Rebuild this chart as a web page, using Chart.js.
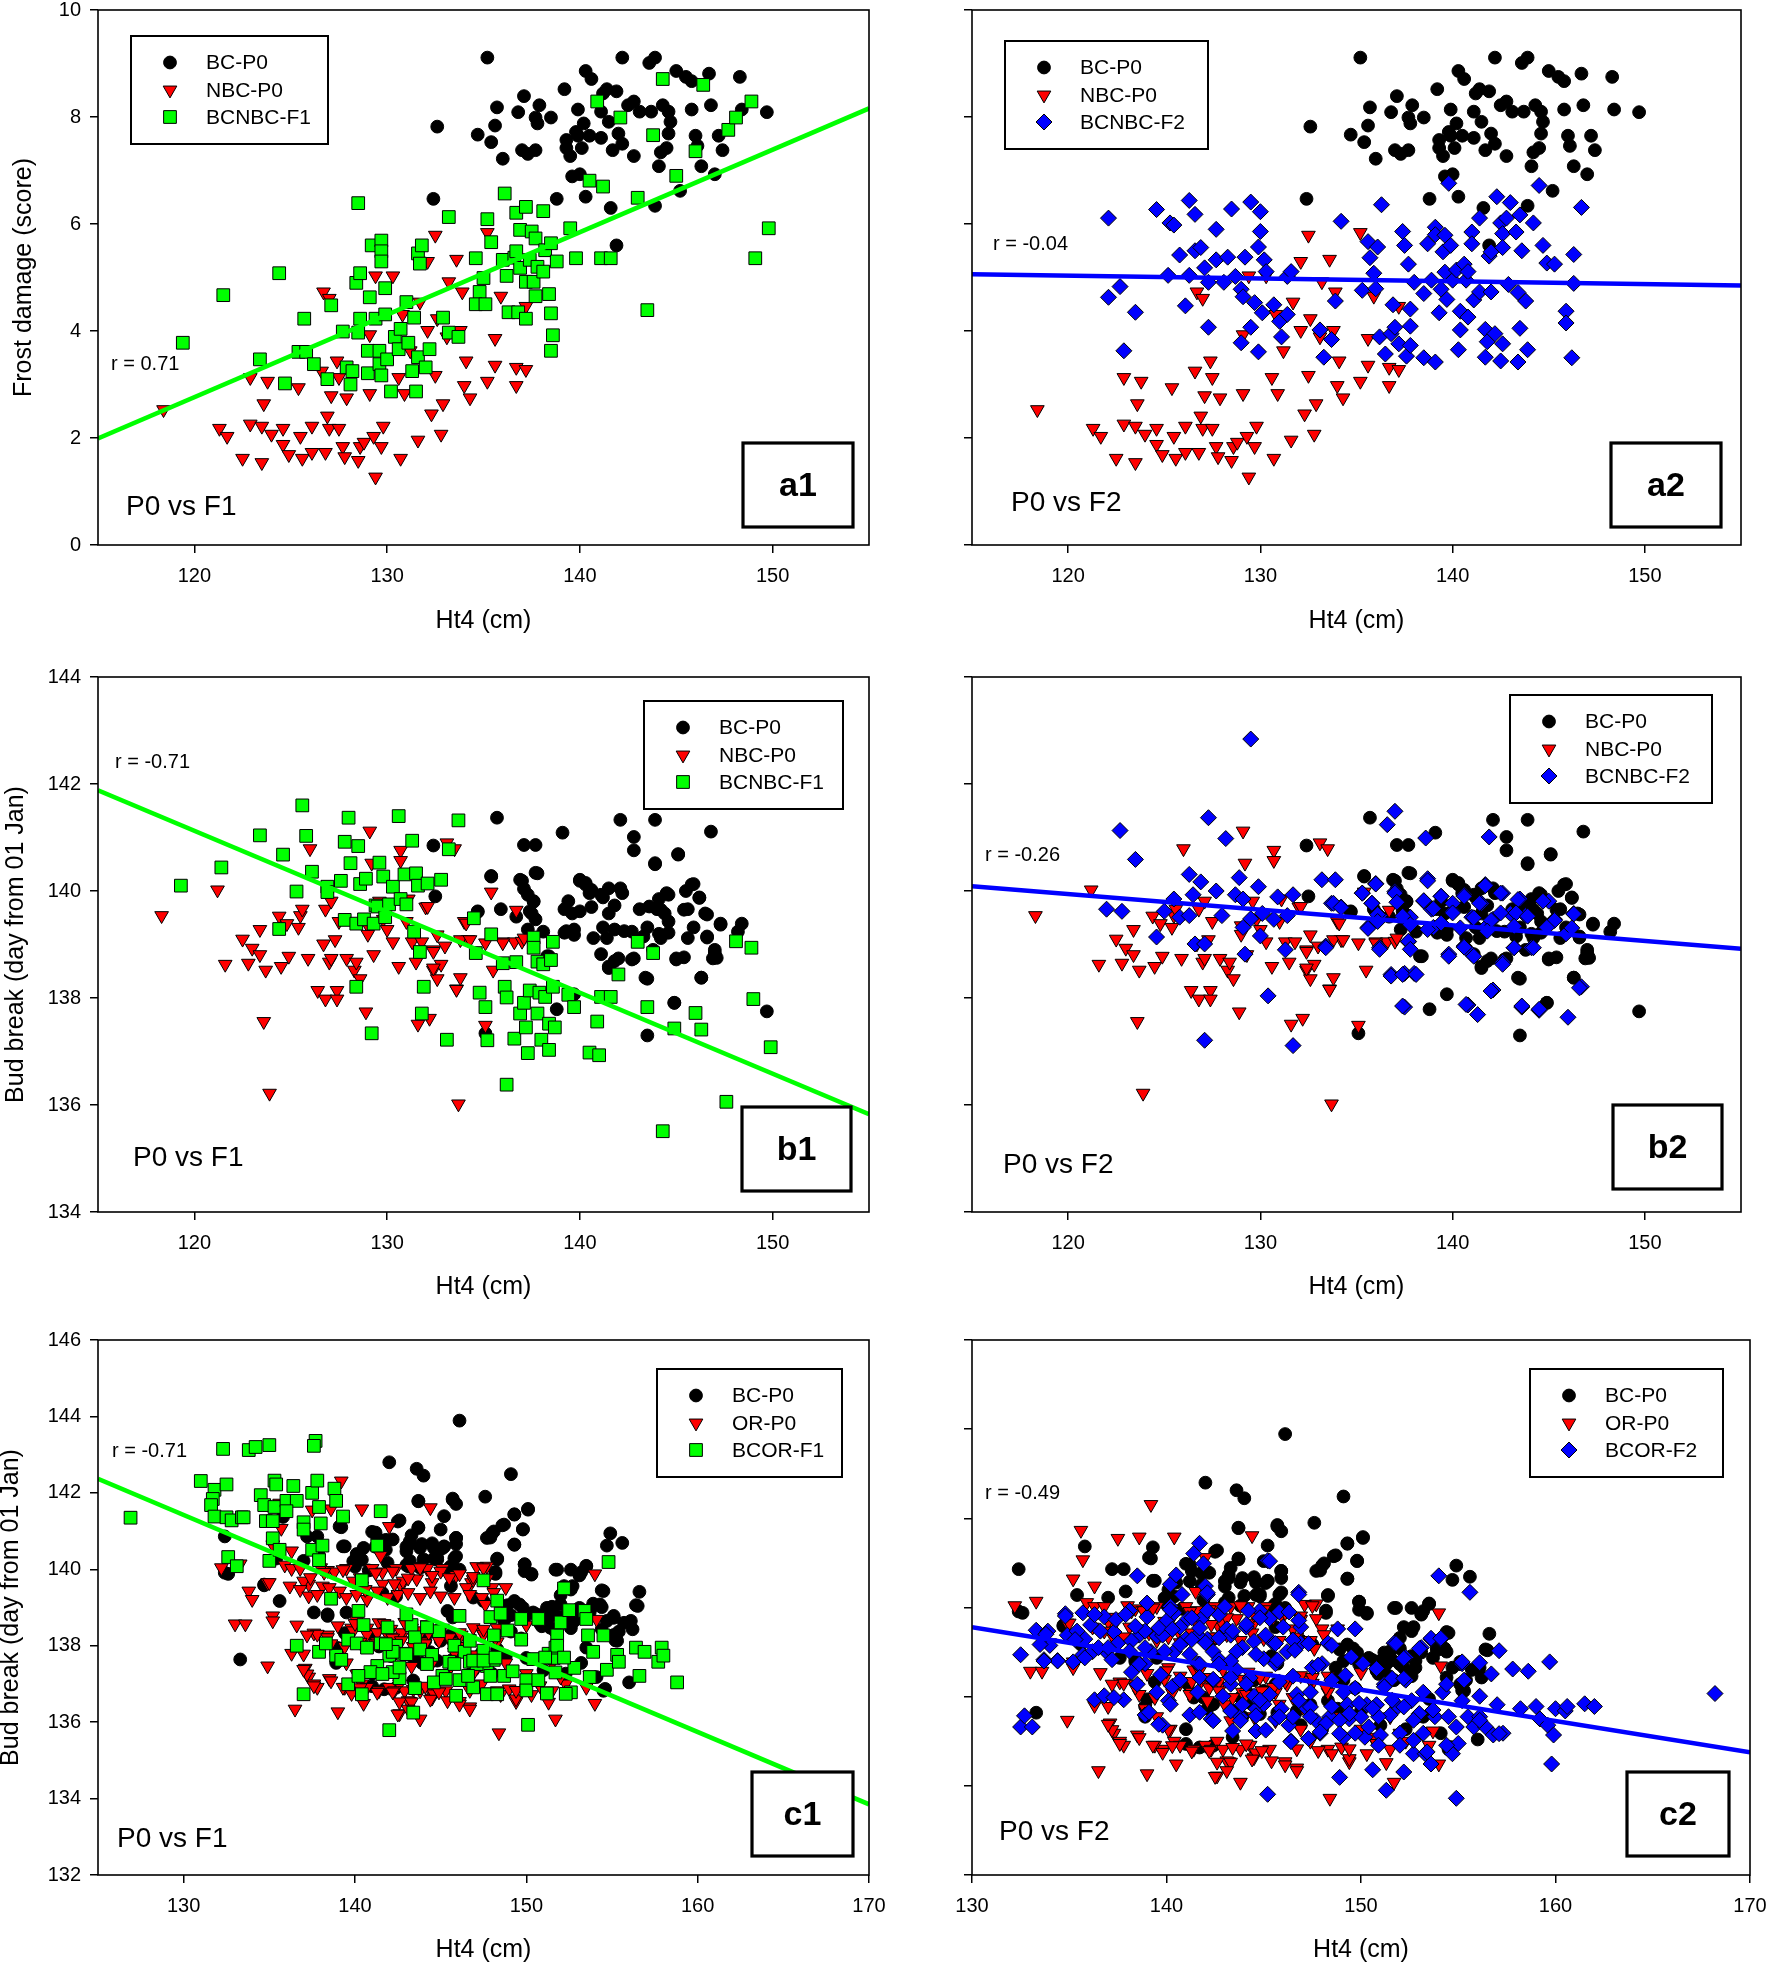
<!DOCTYPE html>
<html lang="en">
<head>
  <meta charset="UTF-8" />
  <title>Ht4 vs frost damage and bud break</title>
  <script src="https://cdn.jsdelivr.net/npm/chart.js"></script>
  <style>
    body { margin: 0; background: #fff; }
    #fig { position: relative; width: 1768px; height: 1965px; overflow: hidden; }
    #fig canvas { position: absolute; }
  </style>
</head>
<body>
  <div id="fig">
    <canvas id="a1" width="900" height="651" style="left:0;top:-11px"></canvas>
    <canvas id="a2" width="888" height="651" style="left:880px;top:-11px"></canvas>
    <canvas id="b1" width="900" height="654" style="left:0;top:656px"></canvas>
    <canvas id="b2" width="888" height="654" style="left:880px;top:656px"></canvas>
    <canvas id="c1" width="900" height="646" style="left:0;top:1319px"></canvas>
    <canvas id="c2" width="900" height="646" style="left:880px;top:1319px"></canvas>
  </div>

  <script>
    // ---- data: [Ht4 (cm), value] ----

    // row a: frost damage (score)
    const bcFrost = [
      [135.2,9.11],[142.2,9.11],[143.6,9.01],[143.9,9.11],[140.3,8.86],[140.6,8.71],[145.0,8.86],[145.5,8.75],
      [145.8,8.67],[146.7,8.81],[148.3,8.75],[139.2,8.52],[137.1,8.39],[135.7,8.18],[136.8,8.09],[137.9,8.22],
      [137.7,7.99],[137.8,7.88],[138.5,7.99],[139.9,8.14],[141.2,8.44],[141.4,8.52],[141.9,8.48],[141.1,8.10],
      [141.5,7.91],[142.8,8.29],[142.5,8.22],[143.1,8.10],[143.7,8.10],[144.3,8.22],[144.6,8.10],[144.7,7.91],
      [145.8,8.14],[146.8,8.22],[148.4,8.14],[149.7,8.09],[132.6,7.82],[134.7,7.67],[135.4,7.53],[135.6,7.84],
      [136.0,7.22],[137.0,7.38],[137.3,7.31],[137.7,7.38],[139.3,7.42],[139.5,7.27],[140.1,7.42],[139.3,7.57],
      [139.8,7.72],[140.2,7.88],[139.9,7.65],[140.5,7.65],[141.1,7.61],[142.0,7.69],[141.7,7.38],[142.2,7.50],
      [142.8,7.27],[144.1,7.08],[144.2,7.34],[144.6,7.69],[144.5,7.42],[146.0,7.65],[146.1,7.46],[146.3,7.08],
      [147.2,7.65],[147.4,7.38],[139.6,6.89],[140.0,6.93],[140.3,6.51],[141.6,6.30],[143.9,6.34],[145.2,6.62],
      [147.0,6.93],[138.8,6.47],[132.4,6.47],[141.9,5.60]
    ];
    const nbcFrost = [
      [118.4,2.53],[121.3,2.18],[121.7,2.03],[122.5,1.62],[122.9,2.26],[123.5,1.54],[123.5,2.22],[123.6,2.64],
      [122.9,3.13],[123.8,3.06],[124.0,2.07],[124.6,2.18],[124.6,1.88],[124.9,1.69],[125.4,2.94],[125.5,2.03],
      [125.6,1.62],[126.1,2.22],[126.1,1.73],[126.6,3.25],[126.8,1.73],[126.9,2.41],[127.0,2.18],[127.1,2.79],
      [126.7,4.73],[127.0,4.61],[127.5,2.18],[127.4,3.44],[127.5,3.13],[127.7,1.84],[127.8,1.65],[127.9,2.75],
      [128.5,1.58],[128.6,1.84],[128.8,1.92],[129.1,2.83],[129.1,3.93],[129.3,2.03],[129.4,1.27],[129.4,5.03],
      [129.7,1.84],[129.8,2.22],[130.3,5.03],[130.6,3.13],[130.7,1.62],[130.9,2.83],[130.8,4.31],[131.2,3.63],
      [131.6,1.96],[131.7,4.54],[132.1,4.01],[132.1,5.30],[132.3,2.45],[132.5,5.79],[132.5,3.17],[132.6,4.23],
      [132.8,2.07],[132.9,2.64],[133.1,3.89],[133.2,4.92],[133.6,5.34],[133.8,4.01],[134.0,2.98],[133.9,4.73],
      [134.3,2.75],[134.1,3.44],[135.2,5.84],[135.2,3.06],[135.6,3.86],[135.6,3.36],[135.9,4.65],[136.7,2.98],
      [136.7,3.32],[137.2,3.28],[137.2,4.46]
    ];
    const f1Frost = [
      [119.4,3.78],[121.5,4.67],[123.4,3.47],[124.4,5.08],[124.7,3.02],[125.4,3.61],[125.7,4.23],[125.8,3.61],
      [126.2,3.38],[126.9,3.10],[127.1,4.48],[127.7,3.99],[127.9,3.32],[128.1,3.00],[128.2,3.25],[128.4,4.90],
      [128.5,6.39],[128.6,5.08],[128.5,3.97],[128.6,4.23],[129.0,3.63],[129.0,3.21],[129.1,4.63],[129.2,5.60],
      [129.4,4.23],[129.6,3.63],[129.6,3.38],[129.7,5.69],[129.7,5.49],[129.7,5.30],[129.7,3.17],[129.9,4.80],
      [129.9,4.31],[130.0,3.47],[130.2,2.87],[130.4,3.89],[130.6,3.66],[130.7,4.04],[131.0,4.54],[131.1,3.78],
      [131.3,3.25],[131.4,4.25],[131.5,2.87],[131.6,3.51],[131.6,5.45],[131.7,5.26],[131.8,5.60],[132.0,3.32],
      [132.2,3.66],[132.9,4.25],[133.2,3.97],[133.2,6.13],[133.7,3.89],[134.6,5.36],[134.8,4.73],[134.6,4.50],
      [135.1,4.50],[135.0,4.99],[135.2,6.09],[135.4,5.66],[136.1,6.57],[136.0,5.33],[136.2,5.03],[136.3,4.35],
      [136.6,5.37],[136.7,6.21],[136.7,5.49],[136.8,4.35],[136.9,5.89],[136.9,5.18],[137.2,4.92],[137.2,6.32],
      [137.2,4.23],[137.4,5.33],[137.5,5.86],[137.6,4.92],[137.7,5.73],[137.7,4.65],[137.8,5.20],[138.1,6.24],
      [138.1,5.11],[138.2,5.51],[138.5,5.64],[138.4,4.69],[138.5,4.33],[138.5,3.63],[138.6,3.92],[138.8,5.30],
      [139.5,5.92],[139.8,5.36],[140.5,6.81],[140.9,8.29],[141.1,5.36],[141.2,6.70],[141.6,5.36],[142.1,7.99],
      [143.0,6.49],[143.5,4.39],[143.8,7.66],[144.3,8.71],[145.0,6.90],[146.0,7.36],[146.4,8.60],[147.7,7.76],
      [148.1,7.99],[148.9,8.29],[149.1,5.36],[149.8,5.92]
    ];
    const f2Frost = [
      [122.1,6.11],[122.7,4.83],[122.1,4.63],[123.5,4.35],[122.9,3.63],[124.6,6.27],[125.2,5.04],[125.3,6.02],
      [125.5,5.98],[125.8,5.42],[126.1,4.47],[126.3,5.04],[126.3,6.44],[126.6,6.18],[126.6,5.50],[126.9,5.56],
      [127.1,5.18],[127.3,4.91],[127.3,4.07],[127.7,5.90],[127.7,5.33],[128.1,4.91],[128.3,5.38],[128.5,6.28],
      [128.7,5.02],[129.0,3.78],[129.0,4.78],[129.1,4.64],[129.2,5.38],[129.5,6.41],[129.5,4.07],[129.9,5.57],
      [130.0,5.86],[130.0,6.23],[129.7,4.53],[129.9,3.61],[130.1,4.34],[130.2,5.33],[130.3,5.11],[130.7,4.49],
      [131.0,4.18],[131.1,3.89],[131.4,5.02],[131.4,4.31],[131.6,5.11],[133.1,4.02],[133.3,3.51],[133.7,3.84],
      [133.9,4.56],[134.2,6.05],[135.3,4.76],[135.6,5.67],[135.7,5.37],[135.9,5.08],[136.0,4.79],[136.1,5.57],
      [136.2,3.89],[136.3,6.36],[136.5,3.57],[136.8,3.95],[136.9,4.49],[137.0,4.07],[137.2,3.76],[137.4,5.86],
      [137.5,5.60],[137.6,3.53],[137.7,5.25],[137.8,4.41],[137.8,4.09],[137.8,3.73],[138.0,4.91],[138.5,3.50],
      [138.5,4.70],[138.7,5.63],[138.9,4.95],[139.1,3.42],[139.1,5.94],[139.1,5.80],[139.3,4.34],[139.4,4.78],
      [139.5,5.48],[139.6,5.79],[139.6,5.10],[139.7,4.59],[139.8,6.76],[139.9,5.60],[140.0,4.95],[140.2,5.14],
      [140.3,3.65],[140.4,4.37],[140.4,4.02],[140.6,5.25],[140.7,4.95],[140.8,5.11],[140.8,4.26],[141.0,5.85],
      [141.0,5.63],[141.1,4.58],[141.4,6.11],[141.4,4.73],[141.7,4.03],[141.7,3.51],[141.8,3.80],[141.9,5.40],
      [142.0,4.73],[142.0,5.48],[142.2,3.95],[142.3,6.51],[142.5,6.02],[142.5,3.44],[142.6,5.82],[142.6,5.56],
      [142.6,3.76],[142.8,6.11],[142.9,4.87],[143.0,6.40],[143.3,5.85],[143.4,4.72],[143.4,3.42],[143.5,4.05],
      [143.5,6.17],[143.6,5.50],[143.8,4.56],[143.9,3.65],[144.2,6.02],[144.5,6.72],[144.7,5.60],[144.9,5.27],
      [145.3,5.25],[145.9,4.37],[145.9,4.15],[146.2,3.50],[146.3,5.43],[146.3,4.89],[146.7,6.31]
    ];

    // row b: bud break (day from 01 Jan), BC x NBC cross
    const bcBud = [
      [135.7,141.37],[139.1,141.09],[142.1,141.33],[143.9,141.33],[146.8,141.11],[142.8,141.01],[142.8,140.76],
      [132.4,140.85],[137.1,140.86],[137.7,140.86],[143.9,140.52],[145.1,140.69],[137.7,140.34],[135.4,140.28],
      [137.0,140.19],[137.1,140.04],[137.3,139.93],[140.0,140.19],[140.3,140.12],[140.5,139.96],[141.5,140.05],
      [142.2,139.96],[141.2,139.88],[145.5,140.00],[145.9,140.13],[146.2,139.88],[144.1,139.85],[144.5,139.96],
      [132.5,139.90],[137.6,139.80],[139.4,139.81],[139.2,139.66],[139.6,139.58],[140.0,139.62],[140.6,139.70],
      [141.8,139.73],[141.5,139.58],[143.1,139.66],[144.0,139.66],[144.4,139.58],[144.6,139.43],[145.6,139.66],
      [146.5,139.58],[147.3,139.39],[148.4,139.39],[134.7,139.61],[135.9,139.66],[136.7,139.52],[137.5,139.58],
      [137.7,139.47],[137.3,139.28],[138.1,139.24],[139.2,139.22],[139.7,139.28],[141.2,139.32],[141.8,139.28],
      [142.7,139.24],[143.5,139.32],[144.1,139.20],[145.9,139.32],[146.6,139.13],[148.2,139.24],[141.1,138.82],
      [141.5,138.59],[142.0,138.74],[142.8,138.74],[143.8,138.90],[145.0,138.74],[145.4,138.76],[147.0,138.90],
      [146.9,138.74],[143.5,138.36],[146.3,138.38],[138.4,138.78],[144.9,137.91],[138.8,137.79],[143.5,137.30],
      [149.7,137.75],[135.1,137.34],
      [145.1,140.68],[143.9,140.50],[137.8,140.33],[135.4,140.27],[136.9,140.21],[140.0,140.21],[140.3,140.15],
      [134.7,139.62],[137.6,139.81],[137.4,139.62],[140.6,140.02],[141.1,139.93],[142.1,140.05],[144.6,139.93],
      [145.8,140.12],[146.2,139.87],[145.4,139.65],[146.6,139.56],[147.3,139.37],[144.2,139.65],[143.6,139.71],
      [139.3,139.25],[139.7,139.18],[140.7,139.12],[141.4,139.12],[142.3,139.25],[143.3,139.15],[144.2,139.12],
      [144.6,139.22],[145.6,139.12],[146.6,139.15],[138.3,138.78],[141.8,138.69],[142.7,138.72],[145.0,138.72],
      [147.0,138.84],[147.1,138.75],[141.5,138.56],[143.4,138.38],[146.3,138.38],[139.7,138.07],[144.9,137.91]
    ];
    const nbcBud = [
      [118.3,139.54],[121.2,140.02],[121.6,138.63],[122.5,139.10],[122.8,138.65],[123.0,138.93],[123.4,138.81],
      [123.4,139.28],[123.6,137.56],[123.7,138.52],[123.9,136.22],[124.4,139.53],[124.5,138.59],[124.8,139.39],
      [124.9,138.78],[125.4,139.32],[125.5,139.54],[125.6,139.66],[125.9,138.74],[126.0,140.79],[126.4,138.14],
      [126.7,139.01],[126.8,139.66],[126.8,137.98],[127.0,138.67],[127.1,139.81],[127.1,138.74],[127.3,139.09],
      [127.4,138.14],[127.4,137.98],[127.5,139.43],[127.9,138.74],[128.3,138.52],[128.4,138.67],[128.6,138.36],
      [128.9,137.74],[129.0,139.35],[129.0,139.19],[129.1,141.12],[129.2,140.52],[129.3,138.81],[129.6,139.81],
      [129.8,139.47],[130.0,139.28],[130.3,139.05],[130.6,138.59],[130.7,140.76],[130.7,140.57],[131.0,139.43],
      [131.1,139.85],[131.3,139.05],[131.5,138.67],[131.6,137.51],[131.8,139.05],[132.0,139.70],[132.2,137.62],
      [132.4,138.52],[132.4,138.90],[132.6,138.36],[132.8,138.63],[133.0,138.97],[133.1,140.90],[133.5,140.79],
      [133.6,138.17],[133.7,136.02],[133.8,138.38],[134.0,139.43],[134.2,139.09],[135.1,137.49],[135.4,139.98],
      [135.5,138.52],[136.0,139.05],[136.6,139.05],[136.7,139.64],[137.0,139.06],
      [132.1,139.71],[134.1,139.40],[132.6,139.18],[133.8,139.09],[134.3,139.09],[135.1,139.03],[136.0,139.03],
      [137.1,139.12],[132.4,138.87],[132.4,138.56],[133.6,138.16]
    ];
    const f1Bud = [
      [119.3,140.10],[121.4,140.44],[123.4,141.04],[124.4,139.29],[124.6,140.68],[125.3,139.99],[125.6,141.60],
      [125.8,141.03],[126.1,140.36],[126.9,140.08],[126.9,139.98],[127.6,140.19],[127.8,139.46],[128.0,141.37],
      [127.8,140.92],[128.1,140.52],[128.4,138.21],[128.4,139.39],[128.5,140.84],[128.6,140.13],[128.8,139.47],
      [128.9,140.23],[129.2,137.34],[129.3,139.39],[129.4,139.73],[129.5,139.71],[129.6,140.53],[129.8,140.27],
      [129.9,139.51],[130.1,139.75],[130.3,140.08],[130.6,141.40],[130.7,139.85],[130.9,140.31],[131.0,139.75],
      [131.3,140.94],[131.4,139.24],[131.5,140.33],[131.6,140.10],[131.7,138.86],[131.8,137.71],[131.9,138.21],
      [132.1,140.14],[132.8,140.21],[133.1,137.22],[133.2,140.78],[133.7,141.32],[134.5,139.49],[134.6,138.84],
      [134.8,138.10],[135.1,137.83],[135.2,137.21],[135.4,139.19],[136.0,138.65],[136.1,138.21],[136.2,136.38],
      [136.2,138.01],[136.6,137.24],[136.7,138.67],[136.9,137.71],[137.1,137.91],[137.2,137.45],[137.3,136.97],
      [137.4,138.14],[137.6,139.13],[137.6,138.94],[137.8,137.71],[137.8,138.68],[137.9,138.10],[138.0,137.22],
      [138.1,138.63],[138.2,138.02],[138.4,137.03],[138.4,137.52],[138.5,138.71],[138.6,139.05],[138.6,138.21],
      [138.7,137.45],[139.4,138.06],[139.7,137.83],[140.5,136.98],[140.9,137.56],[141.0,136.93],[141.1,138.02],
      [141.6,138.02],[142.0,138.44],[143.0,139.05],[143.5,137.83],[143.8,138.84],[144.3,135.51],[144.9,137.43],
      [146.0,137.72],[146.3,137.41],[147.6,136.06],[148.1,139.06],[148.9,138.94],[149.0,137.98],[149.9,137.08]
    ];
    const f2Bud = [
      [129.5,142.84],[122.7,141.13],[127.3,141.37],[128.2,140.98],[123.5,140.59],[137.0,141.49],[136.6,141.24],
      [138.6,140.99],[141.9,141.01],[126.3,140.31],[126.9,140.17],[128.9,140.25],[133.2,140.21],[133.9,140.21],
      [138.7,140.23],[125.5,139.85],[126.5,139.93],[127.7,140.00],[128.7,139.93],[129.9,140.08],[130.9,139.89],
      [131.7,139.93],[135.3,139.96],[136.0,140.14],[137.0,139.99],[139.4,139.90],[140.6,139.93],[141.7,140.12],
      [142.6,139.96],[145.0,139.81],[122.0,139.66],[122.8,139.62],[125.0,139.62],[125.8,139.51],[126.3,139.54],
      [128.0,139.54],[129.1,139.85],[129.5,139.48],[130.1,139.58],[130.7,139.47],[131.4,139.54],[133.7,139.77],
      [134.2,139.70],[135.8,139.77],[136.2,139.54],[137.8,139.51],[138.5,139.81],[138.9,139.66],[140.0,139.62],
      [141.0,139.51],[141.5,139.77],[142.1,139.47],[143.0,139.58],[143.5,139.85],[143.8,139.54],[145.3,139.47],
      [146.3,139.58],[124.6,139.14],[126.6,139.01],[127.1,139.01],[129.1,139.32],[130.0,139.16],[131.3,138.90],
      [133.4,138.97],[135.6,139.32],[136.2,138.94],[137.7,139.05],[139.0,139.32],[140.6,138.97],[141.0,138.82],
      [141.8,139.35],[143.2,138.94],[144.1,138.94],[145.9,139.20],[129.2,138.82],[139.8,138.82],[142.6,138.67],
      [130.4,138.04],[136.8,138.44],[137.5,138.46],[138.0,138.46],[142.1,138.15],[146.7,138.21],[137.5,137.83],
      [140.8,137.87],[141.3,137.69],[143.6,137.83],[144.5,137.77],[146.0,137.64],[127.1,137.21],[131.7,137.11],
      [136.0,140.13],[135.3,139.96],[135.8,139.77],[133.8,139.77],[134.2,139.69],[137.0,139.96],[137.1,139.79],
      [138.7,140.19],[138.5,139.82],[139.4,139.90],[139.0,139.67],[140.6,139.90],[140.0,139.77],[141.4,139.77],
      [141.7,140.10],[142.5,139.96],[143.4,139.84],[144.7,139.81],[140.0,139.59],[141.1,139.50],[142.5,139.59],
      [143.3,139.59],[143.9,139.53],[146.3,139.57],[145.3,139.45],[146.2,139.31],[144.9,139.32],[143.2,139.34],
      [142.0,139.45],[141.8,139.25],[140.4,139.31],[139.4,139.40],[138.7,139.28],[137.8,139.37],[137.4,139.53],
      [136.1,139.56],[135.6,139.30],[136.1,139.43],[133.4,138.94],[136.2,138.91],[137.7,139.06],[137.8,138.91],
      [139.8,138.78],[140.6,138.95],[141.1,138.78],[143.2,138.94],[144.2,138.94],[142.6,138.63],[136.8,138.41],
      [137.4,138.44],[138.1,138.44],[142.0,138.13],[146.6,138.19],[137.4,137.85],[140.7,137.88],[143.6,137.85],
      [144.5,137.79]
    ];

    // row c: bud break (day from 01 Jan), BC x OR cross
    const bcBudOR = [
      [146.1,143.89],[142.0,142.80],[143.6,142.63],[144.0,142.45],[149.1,142.49],[147.6,141.90],[143.7,141.79],
      [145.7,141.85],[145.9,141.71],[150.1,141.58],[149.3,141.44],[145.2,141.39],[142.6,141.28],[139.3,141.35],
      [135.8,141.37],[139.2,141.10],[148.6,141.15],[149.8,141.05],[143.7,141.10],[141.0,140.98],[132.4,140.86],
      [137.2,140.86],[137.8,140.86],[148.0,140.94],[147.9,140.83],[145.9,140.82],[154.9,140.94],[141.8,140.77],
      [143.2,140.73],[143.0,140.59],[143.9,140.66],[144.5,140.68],[141.2,140.59],[139.4,140.60],[145.2,140.59],
      [149.3,140.64],[154.7,140.62],[155.6,140.69],[137.9,140.36],[135.4,140.28],[144.6,140.28],[145.9,140.34],
      [148.3,140.28],[149.9,140.13],[150.3,139.88],[151.7,139.99],[152.6,139.99],[153.5,140.09],[153.1,139.84],
      [137.0,140.22],[132.6,139.88],[140.4,140.25],[140.0,140.07],[140.8,139.97],[143.0,140.11],[148.2,139.93],
      [152.2,139.56],[152.7,139.56],[154.4,139.45],[156.6,139.41],[134.7,139.58],[141.6,139.38],[142.4,139.29],
      [145.6,139.56],[148.9,139.06],[150.5,138.83],[151.2,138.69],[152.0,138.74],[152.8,138.65],[153.9,139.10],
      [154.4,139.01],[156.4,139.06],[155.1,138.78],[156.1,138.65],[155.4,138.37],[150.9,138.51],[151.7,138.37],
      [152.6,138.46],[149.1,138.37],[149.7,138.19],[155.2,138.14],[141.1,138.28],[138.4,138.78],[139.4,138.33],
      [144.5,138.37],[145.6,138.28],[147.4,137.82],[138.9,137.78],[133.3,137.64],[142.1,137.73],[143.9,137.55],
      [145.7,137.64],[154.1,137.18],[156.0,137.04],[154.5,136.82],[151.0,137.36],[152.3,137.27],[153.2,137.55],
      [150.0,137.68],[148.3,137.91],[148.8,137.73],[146.9,137.36],[148.0,137.27],[143.4,137.09],[141.0,137.27],
      [138.9,137.55],
      [143.7,141.78],[145.7,141.82],[142.5,141.25],[143.7,141.08],[145.0,141.04],[145.9,140.82],[147.7,140.82],
      [139.3,140.60],[141.3,140.82],[142.2,140.78],[143.8,140.56],[144.6,140.56],[145.2,140.60],[143.0,140.47],
      [144.0,140.26],[144.8,140.30],[139.1,141.12],[140.5,140.56],[139.9,140.21],[141.9,140.17],[143.1,140.08],
      [143.8,140.04],[145.6,140.08],[146.1,139.99],[135.6,139.17],[134.7,139.60],[137.6,138.87],[138.4,138.82],
      [132.4,139.91],[145.4,138.91],[145.7,138.74],[146.9,139.26],[147.5,139.17],
      [149.3,141.43],[150.1,141.56],[148.7,141.17],[149.8,141.04],[148.1,140.99],[149.3,140.65],[148.3,140.26],
      [149.9,140.13],[150.3,139.86],[151.8,139.99],[153.1,139.86],[153.5,140.08],[154.5,139.43],[156.5,139.04],
      [149.6,139.08],[150.6,138.82],[151.2,138.99],[151.6,138.82],[152.0,139.08],[150.8,138.60],[151.4,138.47],
      [152.2,138.65],[152.6,138.91],[153.1,138.99],[153.9,139.04],[154.3,139.08],[154.7,138.65],[155.1,138.73],
      [155.7,138.60],[156.2,138.43],[155.3,138.13],[153.5,137.95],[154.6,136.87],[149.3,139.17],[149.8,138.99],
      [141.2,140.96],[143.3,140.89],[143.2,140.66],[143.2,140.22],[141.8,140.51],[140.1,140.40],[139.5,138.87],
      [141.4,137.98],[141.9,137.98],[142.4,137.83],[143.4,137.68],[143.8,137.98],[144.4,137.83],[144.1,138.13],
      [145.0,138.13],[139.0,137.94],[141.0,136.94],[141.7,136.86],[142.4,136.90],
      [145.9,140.66],[145.1,140.55],[145.8,140.29],[144.8,140.25],[149.9,139.95],[153.2,139.92],[148.2,139.88],
      [145.5,140.03],[152.6,139.47],[152.0,139.32],[151.5,139.02],[151.0,138.80],[151.3,138.73],[152.0,138.73],
      [152.8,138.80],[150.8,138.58],[150.4,138.87],[149.1,138.80],[148.7,138.65],[148.6,138.43],[149.9,138.73],
      [153.7,138.87],[154.4,138.43],[155.1,138.28],[144.8,137.61],[146.7,137.68]
    ];
    const orBud = [
      [139.2,142.31],[135.6,141.73],[135.7,141.07],[137.5,141.55],[138.6,141.58],[140.4,141.58],[144.4,141.61],
      [135.2,140.64],[136.3,140.48],[133.3,140.14],[132.2,140.04],[135.9,140.11],[136.3,140.02],[136.8,140.02],
      [138.4,139.97],[138.8,139.93],[139.5,140.02],[141.0,140.02],[141.6,139.93],[142.4,140.02],[143.3,140.02],
      [144.2,140.02],[145.1,140.02],[147.7,140.08],[154.0,139.88],[147.1,140.07],[147.7,139.75],[134.9,139.65],
      [137.3,139.61],[138.1,139.56],[140.4,139.56],[141.6,139.61],[142.7,139.56],[143.6,139.75],[144.5,139.65],
      [145.9,139.84],[146.8,139.65],[148.0,139.52],[135.2,138.78],[133.0,138.57],[133.6,138.57],[136.6,138.54],
      [137.6,138.33],[138.4,138.28],[138.6,138.05],[139.8,138.46],[140.1,138.65],[140.7,138.46],[141.4,138.60],
      [141.8,138.37],[142.7,138.23],[143.3,138.46],[144.2,138.55],[145.1,138.46],[146.2,138.28],[147.4,138.37],
      [148.3,138.46],[154.1,138.69],[150.0,138.54],[136.3,137.80],[137.0,137.78],[134.9,137.47],[137.1,137.41],
      [137.3,137.18],[137.6,137.00],[137.8,136.91],[138.5,137.14],[138.9,137.73],[139.5,137.55],[140.2,137.27],
      [140.4,137.00],[139.8,136.82],[140.5,136.49],[139.4,136.91],[141.4,136.82],[142.0,136.91],[142.6,137.00],
      [142.9,136.82],[142.6,136.22],[143.2,136.54],[143.8,136.08],[144.3,136.91],[144.5,136.63],[145.3,136.82],
      [146.1,136.54],[146.7,136.40],[147.4,137.00],[148.3,136.82],[148.5,136.72],[149.4,136.54],[150.3,136.72],
      [151.5,136.82],[151.7,136.08],[152.3,137.00],[153.5,136.91],[154.0,136.49],[136.5,136.34],[139.0,136.27],
      [148.4,135.72],[144.5,137.55],[145.6,137.46],[146.9,137.27],[148.3,138.10],[148.8,137.55],[150.0,137.27],
      [150.6,137.09],[151.5,137.55],[152.0,137.18],[141.3,138.10],[142.1,137.91],[143.0,137.82],[143.3,137.46],
      [143.9,138.10],[145.6,138.10],
      [142.0,141.12],[137.0,139.69],[137.4,139.78],[138.0,140.04],[139.3,139.99],[139.9,139.69],[140.3,139.78],
      [141.2,139.91],[142.2,139.95],[142.8,139.69],[143.8,140.04],[145.0,139.95],[145.5,139.78],[146.5,139.52],
      [146.9,139.73],[147.5,140.04],[133.8,139.43],[134.0,139.21],[135.0,139.65],[136.2,139.56],[136.8,139.47],
      [137.3,139.30],[137.8,139.34],[138.5,139.52],[139.1,139.43],[139.5,139.26],[140.1,139.34],[140.7,139.21],
      [141.3,139.43],[141.9,139.26],[142.5,139.34],[143.1,139.39],[143.8,139.26],[144.4,139.43],[145.0,139.30],
      [145.8,139.26],[146.7,139.34],[147.4,139.26],[135.2,138.65],[137.8,138.30],[138.4,138.21],[139.0,138.52],
      [139.9,138.39],[140.7,138.30],[141.3,138.34],[142.1,138.43],[142.7,138.34],[144.3,138.34],[144.9,138.13],
      [145.5,138.21],[146.1,138.34],[146.9,138.47],[147.5,138.30],[137.2,137.26],[137.6,136.95],[138.6,137.08],
      [139.3,136.91],[140.1,137.26],[140.7,136.91],[141.3,136.78],[142.3,136.82],[143.1,136.56],[143.8,136.82],
      [144.6,136.74],[145.4,136.56],[146.1,136.47],[146.7,136.34],[142.5,136.21],
      [148.8,139.52],[147.6,139.08],[148.1,139.39],[147.5,138.43],[149.0,136.87],[149.4,136.61],[150.8,136.95],
      [151.3,136.52],[138.2,139.92],[141.5,140.36],[143.1,139.77],[144.5,139.84],[140.6,139.47],[142.3,139.62],
      [140.0,138.58],[141.7,138.58],[142.9,138.61],[143.9,138.39],[144.8,138.43],[137.2,138.28],[139.4,137.98],
      [140.3,138.09],[141.2,138.05],[142.2,138.20],[142.7,138.13],[143.4,137.98],[144.1,138.05],[137.0,137.38],
      [139.8,136.75],[140.3,136.90],[142.2,136.79],[142.6,136.53],[143.3,136.53],[144.4,136.60],[143.4,136.86],
      [144.1,136.94],[144.9,136.79],[143.1,136.34],[146.9,139.81],[146.1,139.88],[145.8,137.83],[146.5,137.98],
      [148.2,138.20],[147.0,137.76],[146.7,136.83],[147.8,136.79],[149.4,136.83],[153.7,137.23]
    ];
    const f1BudOR = [
      [126.9,141.35],[131.0,142.31],[131.8,142.08],[131.7,141.84],[131.6,141.68],[131.8,141.38],[132.3,143.15],
      [132.5,142.22],[132.5,141.36],[132.8,141.28],[133.4,141.36],[133.5,141.36],[132.6,140.32],[133.1,140.08],
      [133.8,143.12],[134.2,143.20],[135.0,143.25],[137.7,143.36],[137.6,143.23],[134.5,141.94],[134.7,141.68],
      [134.8,141.26],[135.3,142.32],[135.4,142.22],[135.3,141.63],[135.2,141.26],[135.2,140.81],[135.0,140.22],
      [135.6,140.51],[136.0,141.79],[136.4,142.18],[136.6,141.79],[136.0,141.52],[137.0,141.23],[137.0,141.04],
      [137.5,142.00],[137.5,140.51],[137.9,140.24],[138.1,140.62],[138.0,141.20],[137.9,141.63],[137.8,142.32],
      [138.8,142.11],[138.9,141.79],[139.3,141.38],[138.6,139.23],[136.6,138.00],[137.0,136.73],[137.9,137.84],
      [138.9,137.74],[139.6,138.16],[140.1,138.06],[140.4,139.71],[140.2,138.91],[140.5,138.54],[140.4,136.73],
      [141.3,140.62],[141.5,141.52],[141.9,138.48],[142.0,137.74],[141.3,137.47],[142.4,138.00],[142.6,137.15],
      [143.4,136.25],[143.3,138.54],[143.5,138.22],[143.8,137.90],[143.5,136.89],[142.0,135.79],[144.5,137.76],
      [144.9,138.38],[145.5,137.58],[145.8,138.00],[146.4,137.84],[146.7,137.58],[146.9,136.91],[147.5,139.71],
      [147.7,137.47],[147.9,138.75],[148.1,138.27],[148.3,139.18],[148.5,138.84],[148.9,138.40],[147.7,136.73],
      [148.3,136.73],[148.7,137.21],[149.2,137.33],[149.7,138.70],[149.7,138.16],[150.1,135.93],[150.0,137.10],
      [150.0,136.83],[150.7,137.10],[151.2,136.75],[151.3,137.79],[151.6,137.68],[151.8,138.27],[152.0,138.61],
      [152.2,139.50],[152.5,138.93],[152.6,136.78],[152.8,137.42],[153.4,138.91],[153.5,138.70],[153.6,138.27],
      [153.7,137.18],[153.9,137.84],[154.5,138.27],[154.7,137.37],[154.8,140.19],[155.3,137.76],[155.4,137.58],
      [156.4,137.95],[156.6,137.21],[156.9,137.84],[157.7,137.58],[157.9,137.95],[158.0,137.74],[158.8,137.04],
      [138.3,138.06],[139.2,137.63],[139.6,136.99],[140.7,137.95],[140.9,137.31],[141.5,138.06],[142.2,137.31],
      [142.8,137.79],[144.2,137.52],[145.1,137.21],[146.1,137.10],[147.1,137.52],[150.7,138.70],[151.7,137.95],
      [140.2,137.21],[142.2,137.84],[144.2,138.48],[145.8,137.52],[146.6,137.21],[148.1,137.63],
      [143.0,138.82],[141.8,138.04],[143.0,137.78],[146.1,138.78],[146.7,138.13],[147.5,137.87],[146.9,137.61],
      [141.6,137.26],[142.6,137.43],[144.6,137.04],[145.3,137.13],[145.9,136.69],[151.8,138.00],[147.5,137.61],
      [148.2,137.69],[150.4,137.65],[151.1,137.69],[151.7,137.30],[152.2,137.69],[147.9,137.21],[152.3,136.74]
    ];
    const f2BudOR = [
      [132.5,138.94],[132.5,137.32],[132.7,137.57],[133.1,137.32],[133.3,139.49],[133.7,138.83],[133.9,139.47],
      [134.4,138.81],[134.8,139.86],[135.2,138.78],[135.7,138.94],[135.7,139.88],[135.8,139.29],[136.1,139.61],
      [136.3,137.93],[136.8,138.02],[136.8,139.79],[136.9,139.01],[137.2,138.83],[137.3,139.45],[137.8,137.93],
      [138.1,139.93],[138.5,140.71],[138.6,139.38],[138.9,137.59],[139.0,139.79],[139.2,139.01],[139.5,139.36],
      [139.7,138.49],[139.8,137.36],[140.0,139.70],[140.2,140.52],[140.2,140.02],[140.3,138.23],[140.5,140.73],
      [140.7,139.56],[140.8,140.29],[141.0,139.29],[141.1,139.75],[141.2,137.59],[141.4,141.21],[141.6,138.74],
      [141.7,141.44],[141.8,139.75],[141.9,140.98],[142.0,140.48],[142.1,139.29],[142.1,140.29],[142.3,137.50],
      [142.4,139.01],[142.7,139.84],[142.9,138.01],[143.1,139.52],[143.4,137.23],[143.6,138.60],[143.8,137.55],
      [143.9,139.10],[144.1,139.56],[144.3,138.42],[144.5,139.24],[144.6,137.73],[144.8,139.93],[145.0,138.85],
      [145.2,141.05],[145.2,135.81],[145.3,139.75],[145.5,139.20],[145.6,137.50],[145.8,138.33],[146.0,139.56],
      [146.2,139.01],[146.3,137.36],[146.4,137.00],[146.7,138.05],[146.8,140.34],[146.9,139.56],[147.2,137.73],
      [147.5,138.65],[147.7,137.46],[147.9,137.18],[148.3,139.20],[148.4,137.55],[148.5,137.78],[148.8,139.52],
      [148.9,136.19],[149.1,137.09],[149.3,137.82],[149.4,137.50],[149.7,139.52],[149.7,138.19],[150.0,137.55],
      [150.1,138.74],[150.2,137.09],[150.4,137.32],[150.6,136.36],[150.8,137.82],[151.0,137.14],[151.2,138.28],
      [151.3,135.90],[151.5,137.59],[151.7,139.20],[151.9,137.78],[152.0,137.18],[152.2,136.31],[152.3,138.88],
      [152.6,137.91],[152.7,136.72],[152.9,137.55],[153.1,139.10],[153.3,136.72],[153.6,136.49],[153.6,139.29],
      [153.8,137.55],[154.0,140.71],[154.1,139.29],[154.2,138.10],[154.5,137.55],[154.7,136.72],[154.9,135.72],
      [155.0,136.95],[155.2,137.91],[155.3,138.37],[155.5,137.55],[155.6,140.34],[155.8,137.32],[156.1,138.01],
      [156.1,138.76],[156.4,137.32],[156.7,138.51],[156.8,137.14],[157.0,137.82],[157.1,139.03],[157.3,137.18],
      [157.8,138.62],[158.2,137.73],[158.6,138.57],[159.0,137.78],[159.2,137.50],[159.6,137.36],[159.7,138.78],
      [159.8,136.49],[159.9,137.14],[160.0,137.73],[160.5,137.68],[160.6,137.78],[161.5,137.84],[162.0,137.78],
      [168.2,138.07],[134.0,139.15],[134.9,139.38],[135.4,139.47],[136.2,139.01],[136.5,139.10],[137.5,139.20],
      [138.2,138.55],[138.5,138.28],[138.9,138.74],[139.5,138.10],[140.1,137.91],[140.7,138.37],[141.6,138.10],
      [142.4,138.37],[143.3,138.28],[143.9,137.82],[144.5,138.01],[145.3,138.05],[145.9,137.73],[146.8,137.91],
      [147.4,138.10],[145.6,138.74],[146.5,138.46],[142.7,138.83],[143.6,139.01],[140.4,139.01],[138.9,139.47],
      [139.8,139.38],[141.6,139.38],[143.3,139.38],[145.1,139.38],[144.2,139.93],[143.0,140.02],[142.1,139.93],
      [140.4,139.88],[146.9,139.20],[148.0,138.74],[148.5,138.37],[149.1,138.10],[150.3,137.82],[150.9,137.55],
      [149.7,137.18],[150.9,136.91],[152.0,136.91],[153.2,137.18],[154.4,136.91],[156.1,137.55],[152.3,138.37],
      [153.2,138.10],[154.4,138.28],[155.2,138.74],
      [133.8,139.40],[133.5,139.17],[134.4,138.80],[133.7,138.80],[135.8,138.87],[134.8,139.81],[136.3,139.84],
      [135.3,139.28],[136.6,139.47],[137.4,139.73],[137.9,139.84],[137.0,139.10],[138.2,139.25],[138.4,139.58],
      [139.0,140.10],[139.6,139.54],[140.2,139.95],[141.3,139.77],[141.7,139.54],[142.1,140.33],[140.3,139.51],
      [140.7,139.17],[141.3,139.28],[142.0,139.21],[142.7,139.32],[143.4,139.47],[144.1,139.62],[144.8,139.77],
      [144.6,138.95],[143.3,138.80],[142.7,138.73],[141.7,138.73],[141.2,138.95],[139.9,139.02],[138.9,139.10],
      [138.6,138.73],[138.1,139.02],[141.7,138.43],[142.4,138.39],[143.3,138.43],[144.1,138.28],[137.3,137.98],
      [139.1,137.65],[139.6,137.38],[140.2,137.83],[141.7,137.65],[142.4,137.46],[143.3,137.68],[143.8,137.46],
      [144.6,137.57],[144.6,137.23],[145.0,137.83],
      [145.3,141.04],[146.8,140.29],[145.8,139.90],[146.3,139.90],[146.8,139.71],[145.6,139.19],[146.5,139.27],
      [147.3,139.19],[148.5,139.15],[151.8,139.19],[153.0,139.08],[153.6,139.31],[154.1,139.31],[149.5,138.89],
      [150.8,138.63],[152.2,138.86],[151.6,138.41],[152.2,138.41],[151.2,138.22],[146.6,139.04],[145.7,138.82],
      [147.8,138.71],[149.2,138.48],[155.2,138.78],[156.1,137.47],[157.1,137.17],[154.9,137.32],[153.7,137.70],
      [153.0,137.62],[152.2,137.77],[152.7,137.47],[151.6,137.92],[150.6,137.74],[149.9,137.85],[149.4,137.62],
      [148.9,137.47],[148.2,137.40],[147.4,137.77],[147.4,137.55],[146.5,137.55],[145.8,137.55],[144.8,137.92],
      [145.1,137.25],[146.4,136.99],[147.3,137.06],[147.9,137.21],[148.9,137.17],[152.7,137.02],[153.4,136.76]
    ];

    // fitted regression lines (end points as drawn)
    const fitA1 = [[115,1.99],[155,8.16]];
    const fitA2 = [[115,5.06],[155,4.85]];
    const fitB1 = [[115,141.88],[155,135.83]];
    const fitB2 = [[115,140.09],[155,138.92]];
    const fitC1 = [[125,142.37],[170,133.85]];
    const fitC2 = [[130,139.56],[170,136.75]];

    // tick values
    const xTicksAB = [120,130,140,150];
    const xTicksC = [130,140,150,160,170];
    const yTicksFrost = [0,2,4,6,8,10];
    const yTicksBud = [134,136,138,140,142,144];
    const yTicksBudC1 = [132,134,136,138,140,142,144,146];
    const yTicksBudC2 = [134,136,138,140,142,144,146];

    // legend names and r values
    const namesA1 = ['BC-P0','NBC-P0','BCNBC-F1'];
    const namesA2 = ['BC-P0','NBC-P0','BCNBC-F2'];
    const namesC1 = ['BC-P0','OR-P0','BCOR-F1'];
    const namesC2 = ['BC-P0','OR-P0','BCOR-F2'];
    const rLabels = ['r = 0.71','r = -0.04','r = -0.71','r = -0.26','r = -0.71','r = -0.49'];

    // ---- styles ----
    const FONT = "'Liberation Sans', Arial, sans-serif";
    const sBC  = {shape: 'circle',   r: 6.4, fill: '#000000'};
    const sP2  = {shape: 'triangle', r: 7.9, fill: '#ff0000'};
    const sF1  = {shape: 'rect',     r: 9.0, fill: '#00ff00'};
    const sF2  = {shape: 'rectRot',  r: 8.0, fill: '#0000ff'};

    function drawMarker(ctx, s, x, y) {
      ctx.beginPath();
      if (s.shape === 'circle') {
        ctx.arc(x, y, s.r, 0, Math.PI * 2);
      } else if (s.shape === 'triangle') {
        ctx.moveTo(x, y + s.r);
        ctx.lineTo(x - 0.866 * s.r, y - 0.5 * s.r);
        ctx.lineTo(x + 0.866 * s.r, y - 0.5 * s.r);
        ctx.closePath();
      } else if (s.shape === 'rect') {
        const h = s.r * Math.SQRT1_2;
        ctx.rect(x - h, y - h, 2 * h, 2 * h);
      } else {
        ctx.moveTo(x - s.r, y); ctx.lineTo(x, y - s.r);
        ctx.lineTo(x + s.r, y); ctx.lineTo(x, y + s.r);
        ctx.closePath();
      }
      ctx.fillStyle = s.fill;
      ctx.fill();
      ctx.lineWidth = 1;
      ctx.strokeStyle = '#000';
      ctx.stroke();
    }

    // frame, legend box, r text, caption and tag box
    const panelDeco = {
      id: 'panelDeco',
      afterDraw(chart, args, o) {
        const {ctx, chartArea: a} = chart;
        ctx.save();
        ctx.strokeStyle = '#000';
        ctx.lineWidth = 1.6;
        ctx.strokeRect(a.left, a.top, a.right - a.left, a.bottom - a.top);

        // legend
        const lx = a.left + o.legend.x, ly = a.top + o.legend.y;
        ctx.fillStyle = '#fff';
        ctx.fillRect(lx, ly, o.legend.w, 108);
        ctx.lineWidth = 2;
        ctx.strokeRect(lx, ly, o.legend.w, 108);
        const rows = [26.5, 54, 81];
        ctx.font = '21px ' + FONT;
        ctx.textBaseline = 'middle';
        ctx.textAlign = 'left';
        o.names.forEach((n, i) => {
          drawMarker(ctx, o.styles[i], lx + 39, ly + rows[i]);
          ctx.fillStyle = '#000';
          ctx.fillText(n, lx + 75, ly + rows[i] + 1);
        });

        // r value
        ctx.font = '20px ' + FONT;
        ctx.fillStyle = '#000';
        ctx.fillText(o.r, a.left + o.rPos[0], a.top + o.rPos[1]);

        // caption
        ctx.font = '28px ' + FONT;
        ctx.textBaseline = 'alphabetic';
        ctx.fillText(o.caption, a.left + o.capPos[0], a.bottom - o.capPos[1]);

        // tag box
        const tw = o.tag.w, th = 84;
        const tx = a.right - o.tag.right - tw, ty = a.bottom - o.tag.bottom - th;
        ctx.fillStyle = '#fff';
        ctx.fillRect(tx, ty, tw, th);
        ctx.lineWidth = 3.2;
        ctx.strokeRect(tx, ty, tw, th);
        ctx.fillStyle = '#000';
        ctx.font = 'bold 34px ' + FONT;
        ctx.textAlign = 'center';
        ctx.textBaseline = 'middle';
        ctx.fillText(o.tag.text, tx + tw / 2, ty + th / 2 + 2);
        ctx.restore();
      }
    };

    function pointSet(data, s, order) {
      return {
        data: data,
        pointStyle: s.shape,
        rotation: s.shape === 'triangle' ? 180 : 0,
        pointRadius: s.r,
        pointHoverRadius: s.r,
        backgroundColor: s.fill,
        borderColor: '#000',
        pointBorderWidth: 1,
        order: order
      };
    }

    function makePanel(id, p) {
      const tickFont = {family: FONT, size: 20};
      const titleFont = {family: FONT, size: 25};
      const gridOpt = {display: true, drawOnChartArea: false, drawTicks: true, tickLength: 8, color: '#000', lineWidth: 1.5};
      new Chart(document.getElementById(id), {
        type: 'scatter',
        data: {
          datasets: [
            {data: p.fit, showLine: true, borderColor: p.fitColor, borderWidth: 4.5, pointRadius: 0, order: 0},
            pointSet(p.hybrid, p.styles[2], 1),
            pointSet(p.parent2, p.styles[1], 2),
            pointSet(p.bc, p.styles[0], 3)
          ]
        },
        options: {
          responsive: false,
          animation: false,
          events: [],
          layout: {padding: {top: 0, right: p.padRight, left: 0, bottom: 0}},
          plugins: {
            legend: {display: false},
            tooltip: {enabled: false},
            panelDeco: p.deco
          },
          scales: {
            x: {
              type: 'linear', min: p.xMin, max: p.xMax,
              afterBuildTicks: s => { s.ticks = p.xTicks.map(v => ({value: v})); },
              afterFit: s => { s.height = p.xH; },
              ticks: {font: tickFont, color: '#000', padding: 11, maxRotation: 0, autoSkip: false},
              grid: gridOpt,
              border: {display: false},
              title: {display: true, text: 'Ht4 (cm)', font: titleFont, color: '#000', padding: {top: 0, bottom: p.xTitlePad}}
            },
            y: {
              type: 'linear', min: p.yMin, max: p.yMax,
              afterBuildTicks: s => { s.ticks = p.yTicks.map(v => ({value: v})); },
              afterFit: s => { s.width = p.yW; },
              ticks: {font: tickFont, color: p.yTitle ? '#000' : 'rgba(0,0,0,0)', padding: 9, autoSkip: false},
              grid: gridOpt,
              border: {display: false},
              title: {display: !!p.yTitle, text: p.yTitle || '', font: titleFont, color: '#000', padding: {top: p.yTitlePad || 0, bottom: 0}}
            }
          }
        },
        plugins: [panelDeco]
      });
    }

    const stylesF1 = [sBC, sP2, sF1];
    const stylesF2 = [sBC, sP2, sF2];

    makePanel('a1', {
      bc: bcFrost, parent2: nbcFrost, hybrid: f1Frost, fit: fitA1, fitColor: '#00ff00', styles: stylesF1,
      xMin: 115, xMax: 155, xTicks: xTicksAB, yMin: 0, yMax: 10, yTicks: yTicksFrost,
      yTitle: 'Frost damage (score)', yTitlePad: 9, yW: 98, xH: 95, padRight: 31, xTitlePad: 4,
      deco: {legend: {x: 33, y: 26, w: 197}, names: namesA1, styles: stylesF1, r: rLabels[0], rPos: [13, 354],
             caption: 'P0 vs F1', capPos: [28, 30], tag: {text: 'a1', w: 110, right: 16, bottom: 18}}
    });
    makePanel('a2', {
      bc: bcFrost, parent2: nbcFrost, hybrid: f2Frost, fit: fitA2, fitColor: '#0000ff', styles: stylesF2,
      xMin: 115, xMax: 155, xTicks: xTicksAB, yMin: 0, yMax: 10, yTicks: yTicksFrost,
      yTitle: null, yW: 92, xH: 95, padRight: 27, xTitlePad: 4,
      deco: {legend: {x: 33, y: 31, w: 203}, names: namesA2, styles: stylesF2, r: rLabels[1], rPos: [21, 234],
             caption: 'P0 vs F2', capPos: [39, 34], tag: {text: 'a2', w: 110, right: 20, bottom: 18}}
    });
    makePanel('b1', {
      bc: bcBud, parent2: nbcBud, hybrid: f1Bud, fit: fitB1, fitColor: '#00ff00', styles: stylesF1,
      xMin: 115, xMax: 155, xTicks: xTicksAB, yMin: 134, yMax: 144, yTicks: yTicksBud,
      yTitle: 'Bud break (day from 01 Jan)', yTitlePad: 1, yW: 98, xH: 98, padRight: 31, xTitlePad: 8,
      deco: {legend: {x: 546, y: 24, w: 199}, names: namesA1, styles: stylesF1, r: rLabels[2], rPos: [17, 85],
             caption: 'P0 vs F1', capPos: [35, 46], tag: {text: 'b1', w: 109, right: 18, bottom: 21}}
    });
    makePanel('b2', {
      bc: bcBud, parent2: nbcBud, hybrid: f2Bud, fit: fitB2, fitColor: '#0000ff', styles: stylesF2,
      xMin: 115, xMax: 155, xTicks: xTicksAB, yMin: 134, yMax: 144, yTicks: yTicksBud,
      yTitle: null, yW: 92, xH: 98, padRight: 27, xTitlePad: 8,
      deco: {legend: {x: 538, y: 18, w: 202}, names: namesA2, styles: stylesF2, r: rLabels[3], rPos: [13, 178],
             caption: 'P0 vs F2', capPos: [31, 39], tag: {text: 'b2', w: 109, right: 19, bottom: 23}}
    });
    makePanel('c1', {
      bc: bcBudOR, parent2: orBud, hybrid: f1BudOR, fit: fitC1, fitColor: '#00ff00', styles: stylesF1,
      xMin: 125, xMax: 170, xTicks: xTicksC, yMin: 132, yMax: 146, yTicks: yTicksBudC1,
      yTitle: 'Bud break (day from 01 Jan)', yTitlePad: -4, yW: 98, xH: 90, padRight: 31, xTitlePad: 0,
      deco: {legend: {x: 559, y: 29, w: 185}, names: namesC1, styles: stylesF1, r: rLabels[4], rPos: [14, 111],
             caption: 'P0 vs F1', capPos: [19, 28], tag: {text: 'c1', w: 101, right: 16, bottom: 19}}
    });
    // c2 canvas runs past the figure edge so its 170 label is cut like the original
    makePanel('c2', {
      bc: bcBudOR, parent2: orBud, hybrid: f2BudOR, fit: fitC2, fitColor: '#0000ff', styles: stylesF2,
      xMin: 130, xMax: 170, xTicks: xTicksC, yMin: 134, yMax: 146, yTicks: yTicksBudC2,
      yTitle: null, yW: 92, xH: 90, padRight: 30, xTitlePad: 0,
      deco: {legend: {x: 558, y: 29, w: 193}, names: namesC2, styles: stylesF2, r: rLabels[5], rPos: [13, 153],
             caption: 'P0 vs F2', capPos: [27, 35], tag: {text: 'c2', w: 102, right: 21, bottom: 19}}
    });
  </script>
</body>
</html>
